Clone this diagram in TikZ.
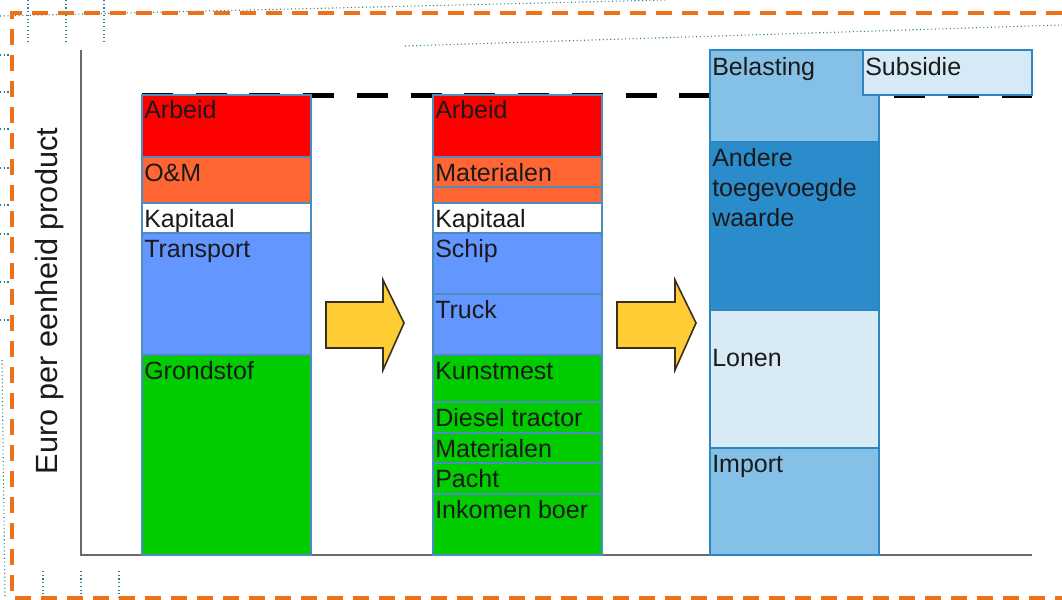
\documentclass[tikz,border=0pt]{standalone}
\usepackage{fontspec}
\setmainfont{Liberation Sans}
\definecolor{cRed}{HTML}{FF0000}
\definecolor{cOrange}{HTML}{FF6633}
\definecolor{cBlue}{HTML}{6496FF}
\definecolor{cGreen}{HTML}{00CC00}
\definecolor{cLight}{HTML}{85C1E6}
\definecolor{cDark}{HTML}{2A8CCB}
\definecolor{cPale}{HTML}{D9EAF7}
\definecolor{cSub}{HTML}{D6E9F6}
\definecolor{segline}{HTML}{4A8EC0}
\definecolor{bar3line}{HTML}{2E86C1}
\definecolor{axisgray}{HTML}{6A6A6A}
\definecolor{frameorange}{HTML}{EE7118}
\definecolor{dotteal}{HTML}{2B7F90}
\definecolor{arrowfill}{HTML}{FFCC33}
\definecolor{arrowline}{HTML}{3A3020}
\definecolor{txt}{HTML}{1A1A1A}
\tikzset{
  lbl/.style={inner sep=0pt, text=txt, font=\fontsize{18.75}{22.5}\selectfont, anchor=base west},
  seg/.style={draw=segline, line width=0.8pt},
  seg3/.style={draw=bar3line, line width=1.5pt},
  tealdot/.style={draw=dotteal, dotted, line width=0.8pt},
  blockarrow/.style={fill=arrowfill, draw=arrowline, line width=1.2pt, line join=miter},
}
\newcommand{\barseg}[7]{%
  \filldraw[#5] (#1,#2) rectangle (#3,#4);
  \node[lbl] (#6) at ({#1+2},{#2+24}) {#7};}
\begin{document}
\begin{tikzpicture}[x=0.75pt,y=-0.75pt]
\useasboundingbox (0,0) rectangle (1062,599);
% teal dotted guides
\draw[tealdot] (0,16) -- (665,0);
\draw[tealdot] (405,46) -- (1062,25);
\foreach \xx in {28,66,104} \draw[tealdot] (\xx,0) -- (\xx,43);
\foreach \xx in {43,81,119} \draw[tealdot] (\xx,571) -- (\xx,599);
\foreach \yy in {55,92,129,168,205,234,282,320} \draw[tealdot] (0,\yy) -- (11,\yy);
\draw[tealdot] (2,360) -- (5,597);
% orange dashed frame
\draw[frameorange, line width=3pt, dash pattern=on 12pt off 7.5pt] (1062,13) -- (12,13) -- (12,598) -- (1062,598);
% black dashed reference level
\draw[black, line width=3.6pt, dash pattern=on 23.25pt off 17.06pt] (142,95.5) -- (1032,95.5);
% axes
\draw[axisgray, line width=2pt] (81,50) -- (81,555) -- (1032,555);
\node[inner sep=0pt, text=txt, rotate=90, font=\fontsize{23}{27}\selectfont] (ylab) at (50,301) {Euro per eenheid product};
% bar 1
\barseg{142}{95}{311}{157}{seg,fill=cRed}{a1}{Arbeid}
\barseg{142}{157}{311}{203}{seg,fill=cOrange}{a2}{O\&M}
\barseg{142}{203}{311}{233}{seg,fill=white}{a3}{Kapitaal}
\barseg{142}{233}{311}{355}{seg,fill=cBlue}{a4}{Transport}
\barseg{142}{355}{311}{555}{seg,fill=cGreen}{a5}{Grondstof}
% bar 2
\barseg{433}{95}{602}{157}{seg,fill=cRed}{b1}{Arbeid}
\barseg{433}{157}{602}{187}{seg,fill=cOrange}{b2}{Materialen}
\filldraw[seg,fill=cOrange] (433,187) rectangle (602,203);
\barseg{433}{203}{602}{233}{seg,fill=white}{b3}{Kapitaal}
\barseg{433}{233}{602}{294}{seg,fill=cBlue}{b4}{Schip}
\barseg{433}{294}{602}{355}{seg,fill=cBlue}{b5}{Truck}
\barseg{433}{355}{602}{402}{seg,fill=cGreen}{b6}{Kunstmest}
\barseg{433}{402}{602}{433}{seg,fill=cGreen}{b7}{Diesel tractor}
\barseg{433}{433}{602}{463}{seg,fill=cGreen}{b8}{Materialen}
\barseg{433}{463}{602}{494}{seg,fill=cGreen}{b9}{Pacht}
\barseg{433}{494}{602}{555}{seg,fill=cGreen}{b10}{Inkomen boer}
% bar 3
\filldraw[seg3,fill=cLight] (710,50) rectangle (879,142);
\node[lbl] (c1) at (712,76) {Belasting};
\filldraw[seg3,fill=cDark] (710,142) rectangle (879,310);
\node[lbl, anchor=north west, align=left] (c2) at (712,148) {Andere\\toegevoegde\\waarde};
\filldraw[seg3,fill=cPale] (710,310) rectangle (879,448);
\node[lbl] (c3) at (712,366) {Lonen};
\filldraw[seg3,fill=cLight] (710,448) rectangle (879,555);
\node[lbl] (c4) at (712,472) {Import};
% subsidie
\filldraw[seg3,fill=cSub] (863,50) rectangle (1032,95);
\node[lbl] (c5) at (865,76) {Subsidie};
% block arrows
\filldraw[blockarrow] (326,302) -- (383,302) -- (383,280) -- (404,323) -- (383,370) -- (383,348) -- (326,348) -- cycle;
\filldraw[blockarrow] (617,302) -- (675,302) -- (675,280) -- (696,323) -- (675,370) -- (675,348) -- (617,348) -- cycle;
\end{tikzpicture}
\end{document}
